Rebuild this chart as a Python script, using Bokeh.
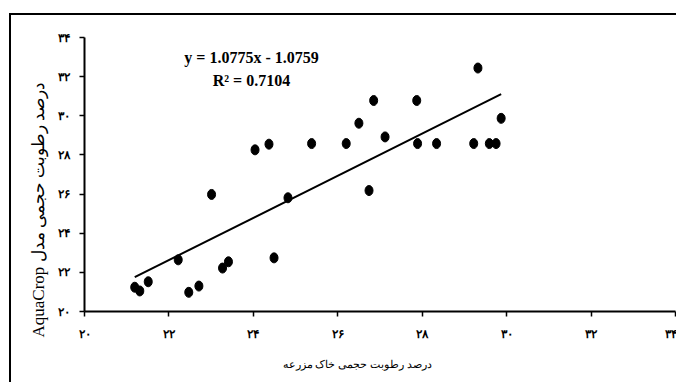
from bokeh.plotting import figure
from bokeh.models import Range1d, FixedTicker, Label, Title
from bokeh.embed import file_html
from bokeh.resources import INLINE

# Data
field_moisture = [21.19, 21.31, 21.51, 22.22, 22.47, 22.71, 23.01, 23.27, 23.41,
                  24.04, 24.37, 24.49, 24.82, 25.38, 26.20, 26.50, 26.74, 26.85,
                  27.12, 27.87, 27.89, 28.34, 29.22, 29.32, 29.59, 29.75, 29.87]
model_moisture = [21.24, 21.05, 21.52, 22.64, 20.98, 21.30, 25.98, 22.22, 22.54,
                  28.26, 28.55, 22.74, 25.81, 28.58, 28.58, 29.62, 26.18, 30.78,
                  28.92, 30.78, 28.58, 28.58, 28.58, 32.44, 28.58, 28.58, 29.87]
slope = 1.0775
intercept = -1.0759
r2 = 0.7104
tick_values = [20, 22, 24, 26, 28, 30, 32, 34]
tick_labels = ["۲۰", "۲۲", "۲۴", "۲۶", "۲۸", "۳۰", "۳۲", "۳۴"]
x_title = "درصد رطوبت حجمی خاک مزرعه"
y_title = "درصد رطوبت حجمی مدل AquaCrop"

p = figure(width=676, height=382, output_backend="svg", toolbar_location=None,
           x_range=Range1d(20, 34), y_range=Range1d(20, 34),
           min_border_left=84, min_border_right=1, min_border_top=37, min_border_bottom=71)
p.background_fill_color = "white"
p.border_fill_color = None
p.outline_line_color = None
p.xgrid.visible = False
p.ygrid.visible = False
# outer chart border (top and left edges visible in the window)
p.styles = {
    "background": ("linear-gradient(#000,#000) 9px 13px / 2000px 2px no-repeat, "
                   "linear-gradient(#000,#000) 9px 13px / 2px 2000px no-repeat, #fff"),
}

overrides = {v: l for v, l in zip(tick_values, tick_labels)}
for ax in (p.xaxis[0], p.yaxis[0]):
    ax.ticker = FixedTicker(ticks=tick_values)
    ax.major_label_overrides = overrides
    ax.axis_line_color = "black"
    ax.axis_line_width = 2
    ax.major_tick_line_color = "black"
    ax.major_tick_line_width = 1.5
    ax.major_tick_out = 5
    ax.major_tick_in = 0
    ax.minor_tick_line_color = None
    ax.major_label_text_font = "DejaVu Serif"
    ax.major_label_text_font_style = "bold"
    ax.major_label_text_font_size = "12px"
    ax.major_label_text_color = "black"
p.xaxis[0].major_label_standoff = 10
p.yaxis[0].major_label_standoff = 10

# axis titles (as side titles so they can be offset like the reference)
p.add_layout(Title(text=x_title, align="right", offset=244, standoff=24,
                   text_font="Liberation Serif", text_font_style="normal",
                   text_font_size="11px", text_color="black"), "below")
p.add_layout(Title(text="\u202b" + y_title + "\u202c", align="left", offset=-26, standoff=13,
                   text_font="Liberation Serif", text_font_style="normal",
                   text_font_size="17px", text_color="black"), "left")

# scatter points (slightly tall ellipses as in the reference)
p.ellipse(x=field_moisture, y=model_moisture, width=8, height=10,
          width_units="screen", height_units="screen",
          fill_color="black", line_color="black")

# trendline
x0, x1 = min(field_moisture), max(field_moisture)
p.line(x=[x0, x1], y=[slope * x0 + intercept, slope * x1 + intercept],
       line_color="black", line_width=2)

p.add_layout(Label(x=167, y=254, x_units="screen", y_units="screen",
                   text=f"y = {slope}x - {abs(intercept)}", text_align="center",
                   text_baseline="middle", text_font="Liberation Serif",
                   text_font_style="bold", text_font_size="16px", text_color="black"))
p.add_layout(Label(x=167, y=231, x_units="screen", y_units="screen",
                   text=f"R² = {r2}", text_align="center", text_baseline="middle",
                   text_font="Liberation Serif", text_font_style="bold",
                   text_font_size="16px", text_color="black"))

open("out.html", "w").write(file_html(p, INLINE))
